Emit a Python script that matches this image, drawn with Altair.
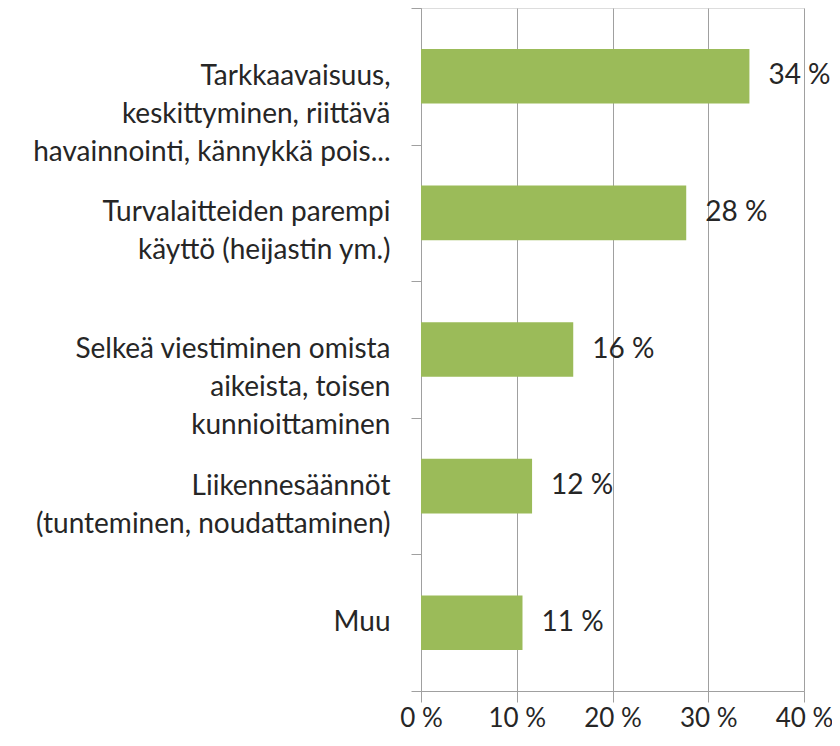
import altair as alt
import pandas as pd

categories = [
    "Tarkkaavaisuus,\nkeskittyminen, riittävä\nhavainnointi, kännykkä pois...",
    "Turvalaitteiden parempi\nkäyttö (heijastin ym.)",
    "Selkeä viestiminen omista\naikeista, toisen\nkunnioittaminen",
    "Liikennesäännöt\n(tunteminen, noudattaminen)",
    "Muu",
]
values = [34.3, 27.7, 15.9, 11.6, 10.6]
x_ticks = [0, 10, 20, 30, 40]

df = pd.DataFrame({"cat": categories, "v": values})

FONT = "Lato"
FS = 28
TXT = "#262626"
GRID = "#A0A0A0"

y_enc = alt.Y(
    "cat:N",
    sort=categories,
    title=None,
    scale=alt.Scale(paddingInner=0, paddingOuter=0),
    axis=alt.Axis(
        labelExpr="split(datum.label, '\\n')",
        labelFont=FONT,
        labelFontSize=FS,
        labelColor=TXT,
        labelLineHeight=38,
        labelLimit=420,
        labelPadding=21,
        labelAlign="right",
        labelBaseline="middle",
        tickBand="extent",
        tickSize=10,
        tickColor=GRID,
        domainColor=GRID,
        grid=False,
    ),
)

x_enc = alt.X(
    "v:Q",
    title=None,
    scale=alt.Scale(domain=[0, 40], nice=False),
    axis=alt.Axis(
        values=x_ticks,
        labelExpr="datum.value + ' %'",
        labelFont=FONT,
        labelFontSize=26,
        labelColor=TXT,
        labelFlush=False,
        labelOverlap=False,
        labelPadding=3,
        tickSize=11,
        tickColor=GRID,
        domainColor=GRID,
        grid=True,
        gridColor=GRID,
        gridWidth=1,
    ),
)

bars = alt.Chart(df).mark_bar(
    color="#9BBB59", height=alt.RelativeBandSize(0.4)
).encode(x=x_enc, y=y_enc)

labels = (
    alt.Chart(df)
    .transform_calculate(lab="format(datum.v, '.0f') + ' %'")
    .mark_text(align="left", baseline="middle", dx=19, font=FONT, fontSize=FS, color=TXT)
    .encode(x="v:Q", y=alt.Y("cat:N", sort=categories), text="lab:N")
)

chart = (
    alt.layer(bars, labels)
    .properties(
        width=383,
        height=683,
        autosize=alt.AutoSizeParams(type="none"),
        padding={"left": 413, "top": 0, "right": 28, "bottom": 47},
    )
    .configure_view(stroke=None)
    .configure(background="white")
)

chart.save("out.html", embed_options={"renderer": "svg", "actions": False})
